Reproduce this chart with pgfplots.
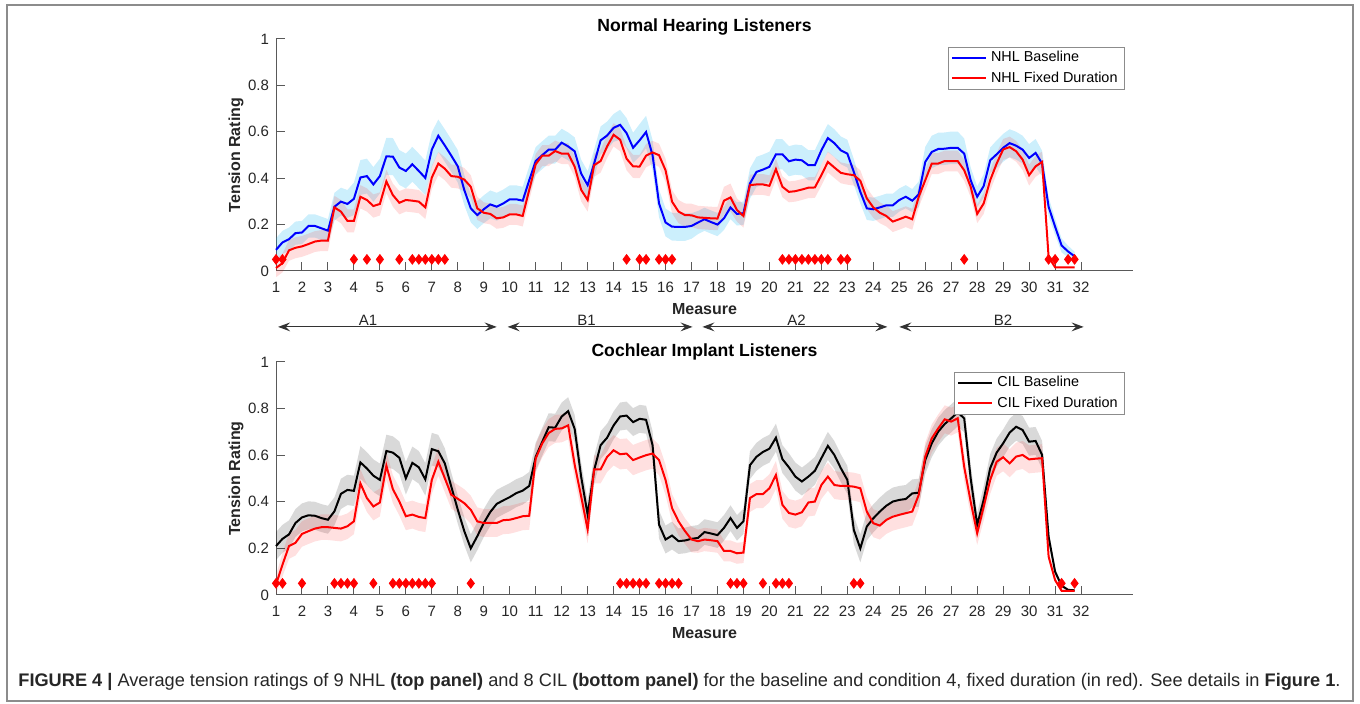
\documentclass[border=0pt]{standalone}
\usepackage{fontspec}
\setmainfont{Liberation Sans}
\usepackage{pgfplots}
\usepackage{pgfplotstable}
\pgfplotsset{compat=1.18}
\usepgfplotslibrary{fillbetween}
\usetikzlibrary{arrows.meta}

\definecolor{axgray}{gray}{0.35}
\definecolor{txt}{gray}{0.15}

% top panel: measure, baseline, its error, fixed duration, its error
\pgfplotstableread{
m b be f fe
1.00 0.091 0.050 0.013 0.040
1.25 0.123 0.050 0.034 0.040
1.50 0.137 0.050 0.089 0.045
1.75 0.163 0.050 0.100 0.045
2.00 0.166 0.050 0.106 0.045
2.25 0.194 0.050 0.116 0.045
2.50 0.194 0.050 0.127 0.045
2.75 0.184 0.050 0.131 0.045
3.00 0.174 0.050 0.131 0.045
3.25 0.277 0.060 0.274 0.050
3.50 0.299 0.060 0.256 0.050
3.75 0.289 0.060 0.216 0.050
4.00 0.311 0.070 0.216 0.050
4.25 0.403 0.075 0.320 0.050
4.50 0.409 0.075 0.306 0.050
4.75 0.373 0.075 0.280 0.050
5.00 0.409 0.075 0.289 0.050
5.25 0.494 0.080 0.386 0.050
5.50 0.493 0.080 0.327 0.050
5.75 0.446 0.075 0.294 0.050
6.00 0.431 0.075 0.306 0.050
6.25 0.460 0.075 0.303 0.050
6.50 0.431 0.075 0.299 0.050
6.75 0.401 0.075 0.274 0.050
7.00 0.523 0.075 0.403 0.050
7.25 0.583 0.070 0.463 0.050
7.50 0.541 0.070 0.441 0.050
7.75 0.497 0.070 0.409 0.050
8.00 0.451 0.070 0.406 0.050
8.25 0.349 0.065 0.394 0.050
8.50 0.270 0.060 0.363 0.050
8.75 0.241 0.060 0.270 0.050
9.00 0.266 0.060 0.251 0.045
9.25 0.287 0.060 0.246 0.045
9.50 0.277 0.060 0.227 0.045
9.75 0.291 0.060 0.231 0.045
10.00 0.309 0.060 0.244 0.045
10.25 0.309 0.060 0.244 0.045
10.50 0.303 0.060 0.237 0.045
10.75 0.391 0.060 0.349 0.045
11.00 0.474 0.060 0.460 0.045
11.25 0.499 0.060 0.497 0.045
11.50 0.523 0.060 0.497 0.045
11.75 0.523 0.060 0.517 0.045
12.00 0.553 0.060 0.506 0.045
12.25 0.537 0.060 0.506 0.045
12.50 0.516 0.060 0.450 0.045
12.75 0.420 0.060 0.350 0.050
13.00 0.370 0.060 0.306 0.050
13.25 0.463 0.060 0.456 0.050
13.50 0.563 0.060 0.474 0.050
13.75 0.584 0.060 0.537 0.050
14.00 0.617 0.060 0.587 0.050
14.25 0.630 0.065 0.566 0.050
14.50 0.594 0.065 0.484 0.050
14.75 0.531 0.065 0.451 0.050
15.00 0.563 0.070 0.450 0.050
15.25 0.599 0.070 0.497 0.050
15.50 0.499 0.065 0.511 0.050
15.75 0.291 0.060 0.499 0.050
16.00 0.209 0.060 0.434 0.050
16.25 0.191 0.060 0.299 0.050
16.50 0.190 0.060 0.256 0.050
16.75 0.190 0.060 0.241 0.050
17.00 0.194 0.055 0.240 0.050
17.25 0.209 0.050 0.231 0.050
17.50 0.223 0.050 0.229 0.050
17.75 0.211 0.050 0.227 0.050
18.00 0.200 0.050 0.226 0.050
18.25 0.227 0.050 0.303 0.060
18.50 0.274 0.050 0.317 0.060
18.75 0.246 0.050 0.263 0.050
19.00 0.249 0.050 0.237 0.050
19.25 0.377 0.065 0.370 0.045
19.50 0.427 0.065 0.373 0.045
19.75 0.437 0.065 0.373 0.045
20.00 0.449 0.065 0.367 0.045
20.25 0.503 0.065 0.439 0.045
20.50 0.503 0.065 0.363 0.045
20.75 0.473 0.065 0.341 0.045
21.00 0.480 0.065 0.344 0.045
21.25 0.477 0.065 0.351 0.045
21.50 0.456 0.065 0.359 0.045
21.75 0.456 0.065 0.360 0.045
22.00 0.520 0.060 0.413 0.045
22.25 0.573 0.060 0.470 0.045
22.50 0.551 0.060 0.446 0.045
22.75 0.520 0.060 0.423 0.045
23.00 0.506 0.060 0.417 0.045
23.25 0.427 0.055 0.413 0.045
23.50 0.341 0.050 0.389 0.045
23.75 0.270 0.050 0.313 0.045
24.00 0.266 0.050 0.274 0.045
24.25 0.274 0.050 0.251 0.045
24.50 0.283 0.050 0.237 0.045
24.75 0.283 0.050 0.213 0.045
25.00 0.306 0.050 0.223 0.045
25.25 0.320 0.050 0.234 0.045
25.50 0.303 0.050 0.223 0.045
25.75 0.331 0.055 0.320 0.045
26.00 0.470 0.065 0.391 0.045
26.25 0.513 0.070 0.463 0.045
26.50 0.526 0.070 0.463 0.045
26.75 0.527 0.070 0.474 0.045
27.00 0.531 0.070 0.474 0.045
27.25 0.531 0.070 0.474 0.045
27.50 0.506 0.065 0.434 0.045
27.75 0.391 0.055 0.363 0.045
28.00 0.320 0.045 0.246 0.040
28.25 0.366 0.050 0.291 0.045
28.50 0.477 0.055 0.391 0.045
28.75 0.503 0.060 0.463 0.045
29.00 0.531 0.060 0.524 0.045
29.25 0.551 0.060 0.534 0.045
29.50 0.540 0.060 0.516 0.045
29.75 0.523 0.060 0.480 0.045
30.00 0.487 0.060 0.413 0.045
30.25 0.509 0.060 0.451 0.045
30.50 0.463 0.055 0.470 0.045
30.75 0.277 0.040 0.060 0.010
31.00 0.191 0.035 0.016 0.003
31.25 0.110 0.030 0.016 0.003
31.50 0.084 0.025 0.016 0.003
31.75 0.063 0.020 0.016 0.003
}\nhl

% bottom panel: measure, baseline, its error, fixed duration, its error
\pgfplotstableread{
m b be f fe
1.00 0.210 0.060 0.045 0.040
1.25 0.241 0.060 0.130 0.050
1.50 0.260 0.060 0.210 0.055
1.75 0.309 0.060 0.224 0.055
2.00 0.333 0.060 0.262 0.055
2.25 0.342 0.060 0.274 0.055
2.50 0.340 0.060 0.285 0.055
2.75 0.330 0.060 0.291 0.055
3.00 0.323 0.060 0.291 0.055
3.25 0.359 0.060 0.288 0.055
3.50 0.434 0.065 0.285 0.055
3.75 0.451 0.065 0.295 0.055
4.00 0.447 0.065 0.316 0.055
4.25 0.569 0.070 0.479 0.060
4.50 0.543 0.070 0.416 0.060
4.75 0.512 0.070 0.380 0.060
5.00 0.494 0.070 0.397 0.060
5.25 0.618 0.070 0.555 0.060
5.50 0.611 0.070 0.454 0.060
5.75 0.589 0.070 0.401 0.060
6.00 0.501 0.070 0.338 0.060
6.25 0.567 0.070 0.345 0.060
6.50 0.548 0.070 0.335 0.060
6.75 0.496 0.070 0.330 0.060
7.00 0.626 0.070 0.494 0.060
7.25 0.617 0.070 0.572 0.060
7.50 0.565 0.065 0.501 0.060
7.75 0.465 0.060 0.430 0.060
8.00 0.366 0.060 0.413 0.060
8.25 0.274 0.060 0.394 0.060
8.50 0.200 0.060 0.366 0.060
8.75 0.252 0.060 0.316 0.060
9.00 0.309 0.060 0.309 0.060
9.25 0.356 0.060 0.309 0.060
9.50 0.391 0.060 0.309 0.060
9.75 0.406 0.060 0.321 0.060
10.00 0.420 0.060 0.323 0.060
10.25 0.437 0.060 0.330 0.060
10.50 0.448 0.060 0.338 0.060
10.75 0.468 0.060 0.340 0.060
11.00 0.593 0.060 0.586 0.060
11.25 0.657 0.060 0.650 0.060
11.50 0.720 0.060 0.695 0.060
11.75 0.718 0.060 0.713 0.060
12.00 0.766 0.060 0.715 0.060
12.25 0.789 0.060 0.728 0.060
12.50 0.713 0.060 0.560 0.060
12.75 0.508 0.060 0.423 0.060
13.00 0.345 0.060 0.281 0.060
13.25 0.536 0.060 0.539 0.060
13.50 0.643 0.060 0.539 0.060
13.75 0.675 0.060 0.593 0.065
14.00 0.728 0.060 0.621 0.065
14.25 0.766 0.060 0.604 0.065
14.50 0.770 0.060 0.607 0.065
14.75 0.742 0.060 0.579 0.065
15.00 0.756 0.060 0.590 0.065
15.25 0.752 0.060 0.600 0.065
15.50 0.643 0.060 0.607 0.065
15.75 0.302 0.060 0.579 0.065
16.00 0.238 0.060 0.494 0.065
16.25 0.255 0.060 0.373 0.060
16.50 0.231 0.055 0.316 0.060
16.75 0.234 0.055 0.274 0.055
17.00 0.241 0.055 0.238 0.055
17.25 0.245 0.055 0.231 0.050
17.50 0.270 0.055 0.238 0.050
17.75 0.264 0.055 0.235 0.050
18.00 0.257 0.055 0.231 0.050
18.25 0.288 0.055 0.189 0.045
18.50 0.330 0.055 0.189 0.045
18.75 0.288 0.055 0.179 0.045
19.00 0.316 0.055 0.182 0.045
19.25 0.557 0.060 0.416 0.060
19.50 0.593 0.060 0.433 0.060
19.75 0.614 0.060 0.433 0.060
20.00 0.628 0.060 0.458 0.060
20.25 0.675 0.060 0.515 0.060
20.50 0.583 0.060 0.387 0.060
20.75 0.548 0.060 0.352 0.060
21.00 0.508 0.060 0.345 0.060
21.25 0.487 0.060 0.355 0.060
21.50 0.508 0.060 0.397 0.060
21.75 0.533 0.060 0.401 0.060
22.00 0.587 0.060 0.472 0.060
22.25 0.640 0.060 0.508 0.060
22.50 0.601 0.060 0.472 0.060
22.75 0.544 0.060 0.468 0.060
23.00 0.494 0.060 0.468 0.060
23.25 0.279 0.060 0.465 0.060
23.50 0.200 0.060 0.458 0.060
23.75 0.294 0.060 0.358 0.060
24.00 0.329 0.060 0.308 0.060
24.25 0.358 0.060 0.298 0.060
24.50 0.383 0.060 0.322 0.060
24.75 0.401 0.060 0.336 0.060
25.00 0.408 0.060 0.344 0.060
25.25 0.412 0.060 0.351 0.060
25.50 0.436 0.060 0.358 0.060
25.75 0.439 0.060 0.430 0.060
26.00 0.579 0.060 0.594 0.060
26.25 0.651 0.060 0.672 0.060
26.50 0.701 0.060 0.715 0.060
26.75 0.734 0.060 0.754 0.060
27.00 0.758 0.060 0.744 0.060
27.25 0.784 0.060 0.758 0.060
27.50 0.758 0.060 0.550 0.060
27.75 0.500 0.060 0.400 0.060
28.00 0.301 0.050 0.265 0.050
28.25 0.408 0.060 0.379 0.060
28.50 0.544 0.060 0.494 0.060
28.75 0.611 0.060 0.572 0.060
29.00 0.651 0.060 0.591 0.060
29.25 0.697 0.060 0.565 0.060
29.50 0.722 0.060 0.594 0.060
29.75 0.708 0.060 0.601 0.060
30.00 0.658 0.060 0.582 0.060
30.25 0.661 0.060 0.585 0.060
30.50 0.601 0.060 0.587 0.060
30.75 0.250 0.030 0.165 0.020
31.00 0.100 0.015 0.064 0.010
31.25 0.040 0.008 0.018 0.005
31.50 0.022 0.005 0.018 0.005
31.75 0.020 0.005 0.018 0.005
}\cil

\pgfplotsset{
  panel/.style={
    scale only axis, width=428.5pt,
    xmin=1, xmax=34, ymin=0, ymax=1,
    axis lines*=left,
    axis line style={axgray, line width=0.5pt},
    tick align=inside, major tick length=4.3pt,
    tick style={axgray, line width=0.5pt},
    xtick={1,...,32}, ytick={0,0.2,0.4,0.6,0.8,1},
    ticklabel style={font=\fontsize{7.5}{9}\selectfont, text=txt},
    xticklabel style={yshift=-2pt},
    /pgf/number format/assume math mode=true,
    clip=false,
    xlabel={Measure},
    xlabel style={font=\bfseries\fontsize{8}{9}\selectfont, text=txt,
      at={(axis description cs:0.5,-0.164)}, anchor=center},
    ylabel={Tension Rating},
    ylabel style={font=\bfseries\fontsize{8}{9}\selectfont, text=txt,
      at={(axis description cs:-0.0467,0.5)}, anchor=center},
    % the default title style shifts up by 6pt; undo it
    title style={font=\bfseries\fontsize{8.8}{10}\selectfont, text=black,
      anchor=center, yshift=-6pt},
    legend style={draw=black!45, line width=0.5pt, fill=white,
      font=\fontsize{7.2}{8.6}\selectfont, anchor=north east,
      inner xsep=1.5pt, inner ysep=0.3pt, row sep=0pt,
      nodes={inner ysep=1.7pt}, cells={anchor=west}},
    legend image code/.code={\draw[#1, line width=1pt] (0pt,0pt) -- (17pt,0pt);},
  },
  band/.style={draw=none, forget plot},
  diam/.style={only marks, mark=diamond*, mark size=2.4pt, red, forget plot},
}

\begin{document}
\begin{tikzpicture}
\draw[black!45, line width=0.6pt] (3.5pt,1.5pt) rectangle (676.5pt,349.5pt);

% ---- Normal hearing listeners
\begin{axis}[panel, at={(138pt,216.5pt)}, height=116pt,
  title={Normal Hearing Listeners}, title style={at={(0.5,1.052)}},
  legend style={at={(0.9907,0.9655)}}]
  \addplot[band, name path=bu] table[x=m, y expr=\thisrow{b}+\thisrow{be}] {\nhl};
  \addplot[band, name path=bl] table[x=m, y expr=\thisrow{b}-\thisrow{be}] {\nhl};
  \addplot[cyan, fill opacity=0.2, draw=none, forget plot] fill between[of=bu and bl];
  \addplot[band, name path=fu] table[x=m, y expr=\thisrow{f}+\thisrow{fe}] {\nhl};
  \addplot[band, name path=fl] table[x=m, y expr=\thisrow{f}-\thisrow{fe}] {\nhl};
  \addplot[red, fill opacity=0.13, draw=none, forget plot] fill between[of=fu and fl];
  \addplot[blue, line width=1pt] table[x=m, y=b] {\nhl};
  \addlegendentry{NHL Baseline}
  \addplot[red, line width=1pt] table[x=m, y=f] {\nhl};
  \addlegendentry{NHL Fixed Duration}
  \addplot[diam] coordinates {
    (1,0.05) (1.25,0.05) (4,0.05) (4.5,0.05) (5,0.05) (5.75,0.05)
    (6.25,0.05) (6.5,0.05) (6.75,0.05) (7,0.05) (7.25,0.05) (7.5,0.05)
    (14.5,0.05) (15,0.05) (15.25,0.05) (15.75,0.05) (16,0.05) (16.25,0.05)
    (20.5,0.05) (20.75,0.05) (21,0.05) (21.25,0.05) (21.5,0.05) (21.75,0.05)
    (22,0.05) (22.25,0.05) (22.75,0.05) (23,0.05) (27.5,0.05)
    (30.75,0.05) (31,0.05) (31.5,0.05) (31.75,0.05)};
  % section arrows below the axis
  \begin{scope}[black!80, line width=0.6pt,
      arr/.style={{Stealth[length=6pt,width=4.4pt,inset=2.2pt]}-{Stealth[length=6pt,width=4.4pt,inset=2.2pt]}},
      lab/.style={anchor=base, font=\fontsize{7.5}{9}\selectfont, text=txt, inner sep=0pt, yshift=0.6pt}]
    \draw[arr] (axis cs:1.08,-0.241) -- (axis cs:9.5,-0.241);
    \draw[arr] (axis cs:9.92,-0.241) -- (axis cs:17.04,-0.241);
    \draw[arr] (axis cs:17.42,-0.241) -- (axis cs:24.54,-0.241);
    \draw[arr] (axis cs:25.0,-0.241) -- (axis cs:32.1,-0.241);
    \node[lab] at (axis cs:4.54,-0.241) {A1};
    \node[lab] at (axis cs:12.96,-0.241) {B1};
    \node[lab] at (axis cs:21.04,-0.241) {A2};
    \node[lab] at (axis cs:29.0,-0.241) {B2};
  \end{scope}
\end{axis}

% ---- Cochlear implant listeners
\begin{axis}[panel, at={(138pt,54.5pt)}, height=116.5pt,
  title={Cochlear Implant Listeners}, title style={at={(0.5,1.043)}},
  legend style={at={(0.9907,0.957)}}]
  \addplot[band, name path=bu] table[x=m, y expr=\thisrow{b}+\thisrow{be}] {\cil};
  \addplot[band, name path=bl] table[x=m, y expr=\thisrow{b}-\thisrow{be}] {\cil};
  \addplot[black, fill opacity=0.15, draw=none, forget plot] fill between[of=bu and bl];
  \addplot[band, name path=fu] table[x=m, y expr=\thisrow{f}+\thisrow{fe}] {\cil};
  \addplot[band, name path=fl] table[x=m, y expr=\thisrow{f}-\thisrow{fe}] {\cil};
  \addplot[red, fill opacity=0.12, draw=none, forget plot] fill between[of=fu and fl];
  \addplot[black, line width=1pt] table[x=m, y=b] {\cil};
  \addlegendentry{CIL Baseline}
  \addplot[red, line width=1pt] table[x=m, y=f] {\cil};
  \addlegendentry{CIL Fixed Duration}
  \addplot[diam] coordinates {
    (1,0.05) (1.25,0.05) (2,0.05) (3.25,0.05) (3.5,0.05) (3.75,0.05) (4,0.05)
    (4.75,0.05) (5.5,0.05) (5.75,0.05) (6,0.05) (6.25,0.05) (6.5,0.05)
    (6.75,0.05) (7,0.05) (8.5,0.05)
    (14.25,0.05) (14.5,0.05) (14.75,0.05) (15,0.05) (15.25,0.05)
    (15.75,0.05) (16,0.05) (16.25,0.05) (16.5,0.05)
    (18.5,0.05) (18.75,0.05) (19,0.05) (19.75,0.05)
    (20.25,0.05) (20.5,0.05) (20.75,0.05)
    (23.25,0.05) (23.5,0.05) (31.25,0.05) (31.75,0.05)};
\end{axis}

\node[anchor=base west, inner sep=0pt, text=black!85] at (9pt,8.5pt)
  {\resizebox{661pt}{!}{\textbf{FIGURE 4 |} Average tension ratings of 9 NHL \textbf{(top panel)} and 8 CIL \textbf{(bottom panel)} for the baseline and condition 4, fixed duration (in red). See details in \textbf{Figure 1}.}};
\pgfresetboundingbox
\path[use as bounding box] (0,0) rectangle (680pt,352pt);
\end{tikzpicture}
\end{document}
